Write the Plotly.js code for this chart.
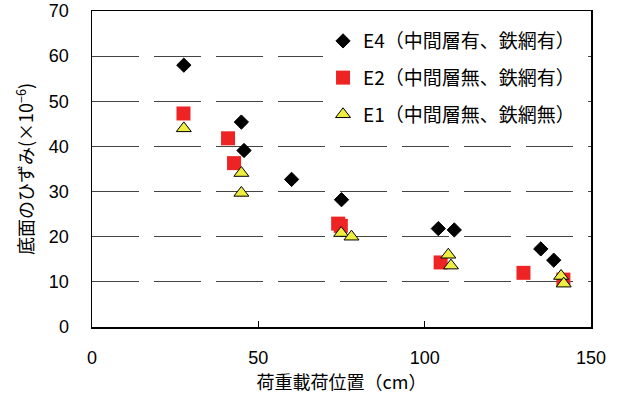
<!DOCTYPE html>
<html>
<head>
<meta charset="utf-8">
<script src="https://cdn.plot.ly/plotly-3.0.1.min.js"></script>
<style>html,body{margin:0;padding:0;background:#fff;}#chart{width:619px;height:396px;}</style>
</head>
<body>
<div id="chart"></div>
<script>
// E4 (中間層有、鉄網有)
const e4X = [27.6, 44.9, 45.7, 60.0, 75.0, 104.1, 108.9, 134.9, 138.8];
const e4Y = [58.0, 45.4, 39.1, 32.7, 28.2, 21.8, 21.5, 17.3, 14.8];
// E2 (中間層無、鉄網有)
const e2X = [27.5, 40.9, 42.7, 74.0, 74.8, 104.8, 129.7, 141.7];
const e2Y = [47.3, 41.8, 36.3, 22.9, 22.4, 14.3, 12.0, 10.5];
// E1 (中間層無、鉄網無)
const e1X = [27.6, 44.9, 44.9, 74.9, 78.0, 107.1, 107.9, 141.0, 141.8];
const e1Y = [44.0, 34.1, 29.7, 20.8, 20.0, 16.0, 13.6, 11.3, 9.6];

const names = ["E4（中間層有、鉄網有）", "E2（中間層無、鉄網有）", "E1（中間層無、鉄網無）"];
const xTicks = [0, 50, 100, 150];
const yTicks = [0, 10, 20, 30, 40, 50, 60, 70];

const FONT = "Noto Sans CJK JP, Liberation Sans, Arial, sans-serif";

const traces = [
  {x: e4X, y: e4Y, name: names[0], type: "scatter", mode: "markers", legendgroup: "a",
   marker: {symbol: "diamond", size: 11, color: "#000000", line: {color: "#000000", width: 1}}},
  {x: e2X, y: e2Y, name: names[1], type: "scatter", mode: "markers", legendgroup: "b",
   marker: {symbol: "square", size: 14, color: "#ee2424", line: {width: 0}}},
  {x: e1X, y: e1Y, name: names[2], type: "scatter", mode: "markers", legendgroup: "c",
   marker: {symbol: "triangle-up", size: 13, color: "#eeee40", line: {color: "#000000", width: 1}}}
];

const layout = {
  width: 619, height: 396,
  margin: {l: 92, r: 28, t: 11, b: 69},
  paper_bgcolor: "#ffffff", plot_bgcolor: "#ffffff",
  font: {family: FONT, size: 16, color: "#000"},
  showlegend: true,
  legend: {x: 0.463, xanchor: "left", y: 0.965, yanchor: "top", bgcolor: "#ffffff",
    font: {family: FONT, size: 19, color: "#000"}, tracegroupgap: 9, traceorder: "grouped"},
  xaxis: {
    range: [0, 150], tickmode: "array", tickvals: xTicks, ticktext: xTicks.map(String),
    showgrid: false, zeroline: false, showline: true, linecolor: "#000", linewidth: 1.5, mirror: true,
    ticks: "inside", ticklen: 6, tickcolor: "#000", ticklabelstandoff: 14,
    tickfont: {family: "Liberation Sans, Arial, sans-serif", size: 18},
    title: {text: "荷重載荷位置（cm）", font: {family: FONT, size: 18}, standoff: 5}
  },
  yaxis: {
    range: [0, 70], tickmode: "array", tickvals: yTicks, ticktext: yTicks.map(String),
    showgrid: true, gridcolor: "#444444", gridwidth: 1, griddash: "47px,15px",
    zeroline: false, showline: true, linecolor: "#000", linewidth: 1.5, mirror: true,
    ticks: "", ticklabelstandoff: 18,
    tickfont: {family: "Liberation Sans, Arial, sans-serif", size: 18},
    title: {text: "底面のひずみ(×10<sup>−6</sup>)", font: {family: FONT, size: 18}, standoff: 10}
  }
};

Plotly.newPlot("chart", traces, layout, {displayModeBar: false, staticPlot: true});
</script>
</body>
</html>
